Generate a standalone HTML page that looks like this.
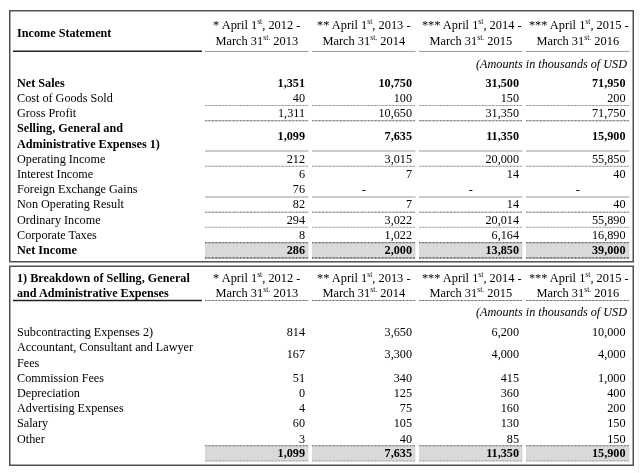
<!DOCTYPE html>
<html><head><meta charset="utf-8"><title>Income Statement</title>
<style>
html,body{margin:0;padding:0;background:#fff;}
body{width:640px;height:473px;position:relative;overflow:hidden;font-family:"Liberation Serif","Times New Roman",serif;font-size:12.2px;color:#000;}
svg{position:absolute;left:0;top:0;}
.t{will-change:transform;position:absolute;white-space:nowrap;line-height:14px;height:14px;}
.b{font-weight:bold;}
.i{font-style:italic;}
.r{text-align:right;}
.c{text-align:center;}
.h{font-size:12.4px;}
sup{font-size:7.6px;line-height:0;vertical-align:baseline;position:relative;top:-5px;}
</style></head><body>
<svg width="640" height="473" viewBox="0 0 640 473">
<rect x="205" y="243" width="103.5" height="14.6" fill="#d9d9d9"/>
<rect x="312" y="243" width="103.5" height="14.6" fill="#d9d9d9"/>
<rect x="419" y="243" width="103.5" height="14.6" fill="#d9d9d9"/>
<rect x="526" y="243" width="103.5" height="14.6" fill="#d9d9d9"/>
<rect x="205" y="446.2" width="103.5" height="14.8" fill="#d9d9d9"/>
<rect x="312" y="446.2" width="103.5" height="14.8" fill="#d9d9d9"/>
<rect x="419" y="446.2" width="103.5" height="14.8" fill="#d9d9d9"/>
<rect x="526" y="446.2" width="103.5" height="14.8" fill="#d9d9d9"/>
<rect x="9.75" y="10.75" width="623.5" height="251.0" fill="none" stroke="#505050" stroke-width="1.5"/>
<rect x="9.75" y="266.25" width="623.5" height="199.0" fill="none" stroke="#505050" stroke-width="1.5"/>
<line x1="638.4" x2="638.4" y1="12" y2="473" stroke="#f3f3f3" stroke-width="1"/>
<line x1="205" x2="308.5" y1="51.4" y2="51.4" stroke="#999" stroke-width="1"/>
<line x1="312" x2="415.5" y1="51.4" y2="51.4" stroke="#999" stroke-width="1"/>
<line x1="419" x2="522.5" y1="51.4" y2="51.4" stroke="#999" stroke-width="1"/>
<line x1="526" x2="629.5" y1="51.4" y2="51.4" stroke="#999" stroke-width="1"/>
<line x1="13" x2="202" y1="51.25" y2="51.25" stroke="#222" stroke-width="1.5"/>
<line x1="205" x2="308.5" y1="105.5" y2="105.5" stroke="#777" stroke-width="0.9" stroke-dasharray="0.9 0.5"/>
<line x1="312" x2="415.5" y1="105.5" y2="105.5" stroke="#777" stroke-width="0.9" stroke-dasharray="0.9 0.5"/>
<line x1="419" x2="522.5" y1="105.5" y2="105.5" stroke="#777" stroke-width="0.9" stroke-dasharray="0.9 0.5"/>
<line x1="526" x2="629.5" y1="105.5" y2="105.5" stroke="#777" stroke-width="0.9" stroke-dasharray="0.9 0.5"/>
<line x1="205" x2="308.5" y1="120.75" y2="120.75" stroke="#444" stroke-width="1.2" stroke-dasharray="0.9 0.5"/>
<line x1="312" x2="415.5" y1="120.75" y2="120.75" stroke="#444" stroke-width="1.2" stroke-dasharray="0.9 0.5"/>
<line x1="419" x2="522.5" y1="120.75" y2="120.75" stroke="#444" stroke-width="1.2" stroke-dasharray="0.9 0.5"/>
<line x1="526" x2="629.5" y1="120.75" y2="120.75" stroke="#444" stroke-width="1.2" stroke-dasharray="0.9 0.5"/>
<line x1="205" x2="308.5" y1="151" y2="151" stroke="#999" stroke-width="1"/>
<line x1="312" x2="415.5" y1="151" y2="151" stroke="#999" stroke-width="1"/>
<line x1="419" x2="522.5" y1="151" y2="151" stroke="#999" stroke-width="1"/>
<line x1="526" x2="629.5" y1="151" y2="151" stroke="#999" stroke-width="1"/>
<line x1="205" x2="308.5" y1="166.25" y2="166.25" stroke="#777" stroke-width="1" stroke-dasharray="0.9 0.5"/>
<line x1="312" x2="415.5" y1="166.25" y2="166.25" stroke="#777" stroke-width="1" stroke-dasharray="0.9 0.5"/>
<line x1="419" x2="522.5" y1="166.25" y2="166.25" stroke="#777" stroke-width="1" stroke-dasharray="0.9 0.5"/>
<line x1="526" x2="629.5" y1="166.25" y2="166.25" stroke="#777" stroke-width="1" stroke-dasharray="0.9 0.5"/>
<line x1="205" x2="308.5" y1="197" y2="197" stroke="#999" stroke-width="1.1"/>
<line x1="312" x2="415.5" y1="197" y2="197" stroke="#999" stroke-width="1.1"/>
<line x1="419" x2="522.5" y1="197" y2="197" stroke="#999" stroke-width="1.1"/>
<line x1="526" x2="629.5" y1="197" y2="197" stroke="#999" stroke-width="1.1"/>
<line x1="205" x2="308.5" y1="212.25" y2="212.25" stroke="#888" stroke-width="1.3" stroke-dasharray="0.9 0.5"/>
<line x1="312" x2="415.5" y1="212.25" y2="212.25" stroke="#888" stroke-width="1.3" stroke-dasharray="0.9 0.5"/>
<line x1="419" x2="522.5" y1="212.25" y2="212.25" stroke="#888" stroke-width="1.3" stroke-dasharray="0.9 0.5"/>
<line x1="526" x2="629.5" y1="212.25" y2="212.25" stroke="#888" stroke-width="1.3" stroke-dasharray="0.9 0.5"/>
<line x1="205" x2="308.5" y1="227.25" y2="227.25" stroke="#888" stroke-width="1" stroke-dasharray="0.9 0.5"/>
<line x1="312" x2="415.5" y1="227.25" y2="227.25" stroke="#888" stroke-width="1" stroke-dasharray="0.9 0.5"/>
<line x1="419" x2="522.5" y1="227.25" y2="227.25" stroke="#888" stroke-width="1" stroke-dasharray="0.9 0.5"/>
<line x1="526" x2="629.5" y1="227.25" y2="227.25" stroke="#888" stroke-width="1" stroke-dasharray="0.9 0.5"/>
<line x1="205" x2="308.5" y1="242.6" y2="242.6" stroke="#555" stroke-width="1.2" stroke-dasharray="0.9 0.5"/>
<line x1="312" x2="415.5" y1="242.6" y2="242.6" stroke="#555" stroke-width="1.2" stroke-dasharray="0.9 0.5"/>
<line x1="419" x2="522.5" y1="242.6" y2="242.6" stroke="#555" stroke-width="1.2" stroke-dasharray="0.9 0.5"/>
<line x1="526" x2="629.5" y1="242.6" y2="242.6" stroke="#555" stroke-width="1.2" stroke-dasharray="0.9 0.5"/>
<line x1="205" x2="308.5" y1="258" y2="258" stroke="#444" stroke-width="1.4" stroke-dasharray="0.9 0.5"/>
<line x1="312" x2="415.5" y1="258" y2="258" stroke="#444" stroke-width="1.4" stroke-dasharray="0.9 0.5"/>
<line x1="419" x2="522.5" y1="258" y2="258" stroke="#444" stroke-width="1.4" stroke-dasharray="0.9 0.5"/>
<line x1="526" x2="629.5" y1="258" y2="258" stroke="#444" stroke-width="1.4" stroke-dasharray="0.9 0.5"/>
<line x1="205" x2="308.5" y1="300.5" y2="300.5" stroke="#555" stroke-width="1" stroke-dasharray="0.9 0.5"/>
<line x1="312" x2="415.5" y1="300.5" y2="300.5" stroke="#555" stroke-width="1" stroke-dasharray="0.9 0.5"/>
<line x1="419" x2="522.5" y1="300.5" y2="300.5" stroke="#555" stroke-width="1" stroke-dasharray="0.9 0.5"/>
<line x1="526" x2="629.5" y1="300.5" y2="300.5" stroke="#555" stroke-width="1" stroke-dasharray="0.9 0.5"/>
<line x1="13" x2="202" y1="300.5" y2="300.5" stroke="#222" stroke-width="1.4"/>
<line x1="205" x2="308.5" y1="445.75" y2="445.75" stroke="#444" stroke-width="1.2" stroke-dasharray="0.9 0.5"/>
<line x1="312" x2="415.5" y1="445.75" y2="445.75" stroke="#444" stroke-width="1.2" stroke-dasharray="0.9 0.5"/>
<line x1="419" x2="522.5" y1="445.75" y2="445.75" stroke="#444" stroke-width="1.2" stroke-dasharray="0.9 0.5"/>
<line x1="526" x2="629.5" y1="445.75" y2="445.75" stroke="#444" stroke-width="1.2" stroke-dasharray="0.9 0.5"/>
<line x1="205" x2="308.5" y1="461" y2="461" stroke="#888" stroke-width="1" stroke-dasharray="0.9 0.5"/>
<line x1="312" x2="415.5" y1="461" y2="461" stroke="#888" stroke-width="1" stroke-dasharray="0.9 0.5"/>
<line x1="419" x2="522.5" y1="461" y2="461" stroke="#888" stroke-width="1" stroke-dasharray="0.9 0.5"/>
<line x1="526" x2="629.5" y1="461" y2="461" stroke="#888" stroke-width="1" stroke-dasharray="0.9 0.5"/>
</svg>
<div class="t c h" style="left:205px;top:18.2px;width:103.5px;">* April 1<sup>st</sup>, 2012 -</div>
<div class="t c h" style="left:205px;top:33.7px;width:103.5px;">March 31<sup>st.</sup> 2013</div>
<div class="t c h" style="left:312px;top:18.2px;width:103.5px;">** April 1<sup>st</sup>, 2013 -</div>
<div class="t c h" style="left:312px;top:33.7px;width:103.5px;">March 31<sup>st.</sup> 2014</div>
<div class="t c h" style="left:420.4px;top:18.2px;width:103.5px;">*** April 1<sup>st</sup>, 2014 -</div>
<div class="t c h" style="left:419px;top:33.7px;width:103.5px;">March 31<sup>st.</sup> 2015</div>
<div class="t c h" style="left:527.4px;top:18.2px;width:103.5px;">*** April 1<sup>st</sup>, 2015 -</div>
<div class="t c h" style="left:526px;top:33.7px;width:103.5px;">March 31<sup>st.</sup> 2016</div>
<div class="t b" style="left:17px;top:26.0px;">Income Statement</div>
<div class="t i" style="left:476px;top:56.6px;">(Amounts in thousands of USD</div>
<div class="t b" style="left:17px;top:75.5px;">Net Sales</div>
<div class="t r b" style="left:205px;top:75.5px;width:100.0px;">1,351</div>
<div class="t r b" style="left:312px;top:75.5px;width:100.0px;">10,750</div>
<div class="t r b" style="left:419px;top:75.5px;width:100.0px;">31,500</div>
<div class="t r b" style="left:526px;top:75.5px;width:99.5px;">71,950</div>
<div class="t " style="left:17px;top:90.5px;">Cost of Goods Sold</div>
<div class="t r " style="left:205px;top:90.5px;width:100.0px;">40</div>
<div class="t r " style="left:312px;top:90.5px;width:100.0px;">100</div>
<div class="t r " style="left:419px;top:90.5px;width:100.0px;">150</div>
<div class="t r " style="left:526px;top:90.5px;width:99.5px;">200</div>
<div class="t " style="left:17px;top:105.5px;">Gross Profit</div>
<div class="t r " style="left:205px;top:105.5px;width:100.0px;">1,311</div>
<div class="t r " style="left:312px;top:105.5px;width:100.0px;">10,650</div>
<div class="t r " style="left:419px;top:105.5px;width:100.0px;">31,350</div>
<div class="t r " style="left:526px;top:105.5px;width:99.5px;">71,750</div>
<div class="t b" style="left:17px;top:121.0px;">Selling, General and</div>
<div class="t b" style="left:17px;top:137.0px;">Administrative Expenses 1)</div>
<div class="t r b" style="left:205px;top:129.0px;width:100.0px;">1,099</div>
<div class="t r b" style="left:312px;top:129.0px;width:100.0px;">7,635</div>
<div class="t r b" style="left:419px;top:129.0px;width:100.0px;">11,350</div>
<div class="t r b" style="left:526px;top:129.0px;width:99.5px;">15,900</div>
<div class="t " style="left:17px;top:151.7px;">Operating Income</div>
<div class="t r " style="left:205px;top:151.7px;width:100.0px;">212</div>
<div class="t r " style="left:312px;top:151.7px;width:100.0px;">3,015</div>
<div class="t r " style="left:419px;top:151.7px;width:100.0px;">20,000</div>
<div class="t r " style="left:526px;top:151.7px;width:99.5px;">55,850</div>
<div class="t " style="left:17px;top:167.0px;">Interest Income</div>
<div class="t r " style="left:205px;top:167.0px;width:100.0px;">6</div>
<div class="t r " style="left:312px;top:167.0px;width:100.0px;">7</div>
<div class="t r " style="left:419px;top:167.0px;width:100.0px;">14</div>
<div class="t r " style="left:526px;top:167.0px;width:99.5px;">40</div>
<div class="t " style="left:17px;top:182.0px;">Foreign Exchange Gains</div>
<div class="t r " style="left:205px;top:182.0px;width:100.0px;">76</div>
<div class="t c " style="left:312px;top:182.0px;width:103.5px;">-</div>
<div class="t c " style="left:419px;top:182.0px;width:103.5px;">-</div>
<div class="t c " style="left:526px;top:182.0px;width:103.5px;">-</div>
<div class="t " style="left:17px;top:197.4px;">Non Operating Result</div>
<div class="t r " style="left:205px;top:197.4px;width:100.0px;">82</div>
<div class="t r " style="left:312px;top:197.4px;width:100.0px;">7</div>
<div class="t r " style="left:419px;top:197.4px;width:100.0px;">14</div>
<div class="t r " style="left:526px;top:197.4px;width:99.5px;">40</div>
<div class="t " style="left:17px;top:212.5px;">Ordinary Income</div>
<div class="t r " style="left:205px;top:212.5px;width:100.0px;">294</div>
<div class="t r " style="left:312px;top:212.5px;width:100.0px;">3,022</div>
<div class="t r " style="left:419px;top:212.5px;width:100.0px;">20,014</div>
<div class="t r " style="left:526px;top:212.5px;width:99.5px;">55,890</div>
<div class="t " style="left:17px;top:227.5px;">Corporate Taxes</div>
<div class="t r " style="left:205px;top:227.5px;width:100.0px;">8</div>
<div class="t r " style="left:312px;top:227.5px;width:100.0px;">1,022</div>
<div class="t r " style="left:419px;top:227.5px;width:100.0px;">6,164</div>
<div class="t r " style="left:526px;top:227.5px;width:99.5px;">16,890</div>
<div class="t b" style="left:17px;top:243.0px;">Net Income</div>
<div class="t r b" style="left:205px;top:243.0px;width:100.0px;">286</div>
<div class="t r b" style="left:312px;top:243.0px;width:100.0px;">2,000</div>
<div class="t r b" style="left:419px;top:243.0px;width:100.0px;">13,850</div>
<div class="t r b" style="left:526px;top:243.0px;width:99.5px;">39,000</div>
<div class="t c h" style="left:205px;top:271.0px;width:103.5px;">* April 1<sup>st</sup>, 2012 -</div>
<div class="t c h" style="left:205px;top:286.2px;width:103.5px;">March 31<sup>st.</sup> 2013</div>
<div class="t c h" style="left:312px;top:271.0px;width:103.5px;">** April 1<sup>st</sup>, 2013 -</div>
<div class="t c h" style="left:312px;top:286.2px;width:103.5px;">March 31<sup>st.</sup> 2014</div>
<div class="t c h" style="left:420.4px;top:271.0px;width:103.5px;">*** April 1<sup>st</sup>, 2014 -</div>
<div class="t c h" style="left:419px;top:286.2px;width:103.5px;">March 31<sup>st.</sup> 2015</div>
<div class="t c h" style="left:527.4px;top:271.0px;width:103.5px;">*** April 1<sup>st</sup>, 2015 -</div>
<div class="t c h" style="left:526px;top:286.2px;width:103.5px;">March 31<sup>st.</sup> 2016</div>
<div class="t b" style="left:17px;top:271.0px;">1) Breakdown of Selling, General</div>
<div class="t b" style="left:17px;top:286.3px;">and Administrative Expenses</div>
<div class="t i" style="left:476px;top:305.0px;">(Amounts in thousands of USD</div>
<div class="t " style="left:17px;top:324.5px;">Subcontracting Expenses 2)</div>
<div class="t r " style="left:205px;top:324.5px;width:100.0px;">814</div>
<div class="t r " style="left:312px;top:324.5px;width:100.0px;">3,650</div>
<div class="t r " style="left:419px;top:324.5px;width:100.0px;">6,200</div>
<div class="t r " style="left:526px;top:324.5px;width:99.5px;">10,000</div>
<div class="t " style="left:17px;top:340.0px;">Accountant, Consultant and Lawyer</div>
<div class="t " style="left:17px;top:355.5px;">Fees</div>
<div class="t r " style="left:205px;top:347.0px;width:100.0px;">167</div>
<div class="t r " style="left:312px;top:347.0px;width:100.0px;">3,300</div>
<div class="t r " style="left:419px;top:347.0px;width:100.0px;">4,000</div>
<div class="t r " style="left:526px;top:347.0px;width:99.5px;">4,000</div>
<div class="t " style="left:17px;top:370.5px;">Commission Fees</div>
<div class="t r " style="left:205px;top:370.5px;width:100.0px;">51</div>
<div class="t r " style="left:312px;top:370.5px;width:100.0px;">340</div>
<div class="t r " style="left:419px;top:370.5px;width:100.0px;">415</div>
<div class="t r " style="left:526px;top:370.5px;width:99.5px;">1,000</div>
<div class="t " style="left:17px;top:385.5px;">Depreciation</div>
<div class="t r " style="left:205px;top:385.5px;width:100.0px;">0</div>
<div class="t r " style="left:312px;top:385.5px;width:100.0px;">125</div>
<div class="t r " style="left:419px;top:385.5px;width:100.0px;">360</div>
<div class="t r " style="left:526px;top:385.5px;width:99.5px;">400</div>
<div class="t " style="left:17px;top:401.0px;">Advertising Expenses</div>
<div class="t r " style="left:205px;top:401.0px;width:100.0px;">4</div>
<div class="t r " style="left:312px;top:401.0px;width:100.0px;">75</div>
<div class="t r " style="left:419px;top:401.0px;width:100.0px;">160</div>
<div class="t r " style="left:526px;top:401.0px;width:99.5px;">200</div>
<div class="t " style="left:17px;top:416.0px;">Salary</div>
<div class="t r " style="left:205px;top:416.0px;width:100.0px;">60</div>
<div class="t r " style="left:312px;top:416.0px;width:100.0px;">105</div>
<div class="t r " style="left:419px;top:416.0px;width:100.0px;">130</div>
<div class="t r " style="left:526px;top:416.0px;width:99.5px;">150</div>
<div class="t " style="left:17px;top:431.5px;">Other</div>
<div class="t r " style="left:205px;top:431.5px;width:100.0px;">3</div>
<div class="t r " style="left:312px;top:431.5px;width:100.0px;">40</div>
<div class="t r " style="left:419px;top:431.5px;width:100.0px;">85</div>
<div class="t r " style="left:526px;top:431.5px;width:99.5px;">150</div>
<div class="t r b" style="left:205px;top:446.3px;width:100.0px;">1,099</div>
<div class="t r b" style="left:312px;top:446.3px;width:100.0px;">7,635</div>
<div class="t r b" style="left:419px;top:446.3px;width:100.0px;">11,350</div>
<div class="t r b" style="left:526px;top:446.3px;width:99.5px;">15,900</div>
</body></html>
